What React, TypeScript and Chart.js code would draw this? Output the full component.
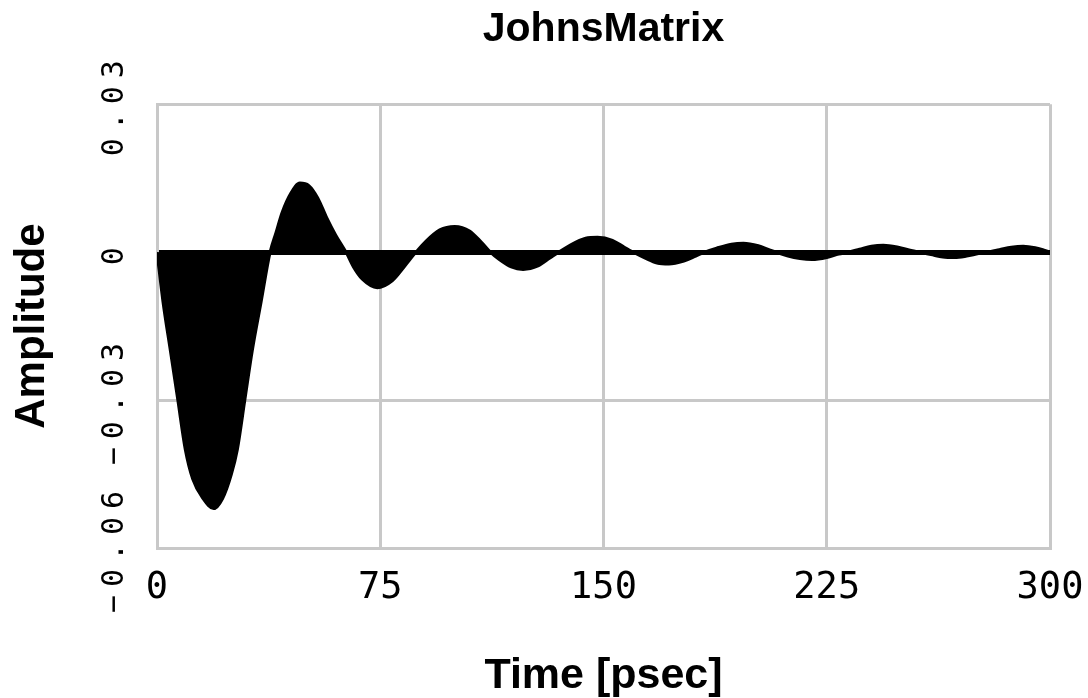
import React, { useEffect, useRef } from 'react';
import { Chart, registerables } from 'chart.js';

Chart.register(...registerables);

// Time axis samples (psec)
const timePs = [
  0, 2, 4.5, 7, 9.5, 12, 15.5, 19, 22, 25, 27, 29.5, 32, 35, 38,
  40, 42, 45, 48, 51, 54, 57, 60, 63.5,
  66, 69, 74, 79, 83, 87,
  90, 95, 100, 105, 109, 112,
  115, 119, 123, 128, 132, 135,
  139, 144, 148, 153, 157, 160,
  164, 168, 172, 177, 181, 184,
  188, 193, 197, 202, 206, 208,
  212, 216, 220, 225, 229, 232,
  236, 240, 244, 249, 253, 256,
  260, 264, 268, 272, 276, 279,
  283, 287, 291, 295, 298, 300,
];

// Amplitude
const amplitude = [
  0, -0.01, -0.02, -0.03, -0.04, -0.046, -0.05, -0.052, -0.05, -0.045, -0.04, -0.03, -0.02, -0.01, 0,
  0.004, 0.008, 0.012, 0.014, 0.0135, 0.011, 0.007, 0.0035, 0,
  -0.003, -0.0055, -0.0072, -0.0058, -0.003, 0,
  0.002, 0.0045, 0.0052, 0.0043, 0.002, 0,
  -0.0015, -0.003, -0.0035, -0.0028, -0.0012, 0,
  0.0015, 0.0028, 0.003, 0.0024, 0.001, 0,
  -0.0012, -0.0022, -0.0024, -0.0018, -0.0008, 0,
  0.0008, 0.0016, 0.0018, 0.0013, 0.0004, 0,
  -0.0008, -0.0013, -0.0015, -0.0011, -0.0004, 0,
  0.0006, 0.0012, 0.0014, 0.001, 0.0004, 0,
  -0.0005, -0.001, -0.0011, -0.0008, -0.0003, 0,
  0.0005, 0.001, 0.0012, 0.0009, 0.0004, 0,
];

const xTickValues = [0, 75, 150, 225, 300];
const yTickLabels = ['\u22120.06', '\u22120.03', '0', '0.03'];

const GRID = '#c8c8c8';

const ySpacingPlugin = {
  id: 'ySpacing',
  beforeDraw(chart: any) {
    const s: any = chart.scales.y;
    if (s && !s.__spaced) {
      const orig = s.drawLabels.bind(s);
      s.drawLabels = (area: any) => {
        const ctx = s.ctx;
        const prev = ctx.letterSpacing;
        ctx.letterSpacing = '8px';
        orig(area);
        ctx.letterSpacing = prev || '0px';
      };
      s.__spaced = true;
    }
  },
};

export default function App() {
  const ref = useRef<HTMLCanvasElement>(null);

  useEffect(() => {
    const canvas = ref.current;
    if (!canvas) return;
    const chart = new Chart(canvas, {
      type: 'line',
      data: {
        datasets: [
          {
            data: timePs.map((t, i) => ({ x: t, y: amplitude[i] })),
            borderColor: '#000',
            backgroundColor: '#000',
            borderWidth: 3,
            pointRadius: 0,
            fill: 'origin',
            cubicInterpolationMode: 'monotone',
            borderJoinStyle: 'round',
          },
        ],
      },
      options: {
        animation: false,
        responsive: false,
        layout: { padding: { left: 0, right: 38, top: 0, bottom: 0 } },
        plugins: {
          legend: { display: false },
          tooltip: { enabled: false },
          title: {
            display: true,
            text: 'JohnsMatrix',
            color: '#000',
            fullSize: false,
            font: { family: 'Liberation Sans', size: 41, weight: 'bold', lineHeight: 1.2 },
            padding: { top: 5, bottom: 50 },
          },
        },
        scales: {
          x: {
            type: 'linear',
            min: 0,
            max: 300,
            afterBuildTicks: (s: any) => {
              s.ticks = xTickValues.map((v) => ({ value: v }));
            },
            ticks: {
              color: '#000',
              font: { family: 'DejaVu Sans Mono', size: 37, lineHeight: 1.2 },
              padding: 18,
              maxRotation: 0,
              minRotation: 0,
              autoSkip: false,
            },
            grid: { color: GRID, lineWidth: 3, drawTicks: false },
            border: { color: GRID, width: 3 },
            title: {
              display: true,
              text: 'Time [psec]',
              color: '#000',
              font: { family: 'Liberation Sans', size: 43, weight: 'bold', lineHeight: 1 },
              padding: 0,
            },
            afterFit: (s: any) => {
              s.height = 150;
              s.paddingLeft = 0;
              s.paddingRight = 0;
            },
          },
          y: {
            type: 'linear',
            min: -0.06,
            max: 0.03,
            ticks: {
              stepSize: 0.03,
              color: '#000',
              font: { family: 'DejaVu Sans Mono', size: 30, lineHeight: 1.2 },
              minRotation: 90,
              maxRotation: 90,
              crossAlign: 'center',
              padding: -3,
              callback: (_v: any, i: number) => yTickLabels[i],
            },
            grid: {
              color: (ctx: any) => (ctx.tick && Math.abs(ctx.tick.value) < 1e-9 ? '#000' : GRID),
              lineWidth: (ctx: any) => (ctx.tick && Math.abs(ctx.tick.value) < 1e-9 ? 5 : 3),
              drawTicks: false,
            },
            border: { color: GRID, width: 3 },
            title: {
              display: true,
              text: 'Amplitude',
              color: '#000',
              font: { family: 'Liberation Sans', size: 42, weight: 'bold', lineHeight: 1 },
              padding: { top: 11, bottom: 0 },
            },
            afterFit: (s: any) => {
              s.width = 157;
              s.paddingTop = 0;
              s.paddingBottom = 0;
            },
          },
        },
      } as any,
      plugins: [ySpacingPlugin],
    });
    return () => chart.destroy();
  }, []);

  return (
    <div style={{ position: 'fixed', left: 0, top: 0, width: 1088, height: 698, background: '#fff' }}>
      <canvas ref={ref} width={1088} height={698} style={{ display: 'block' }} />
    </div>
  );
}
